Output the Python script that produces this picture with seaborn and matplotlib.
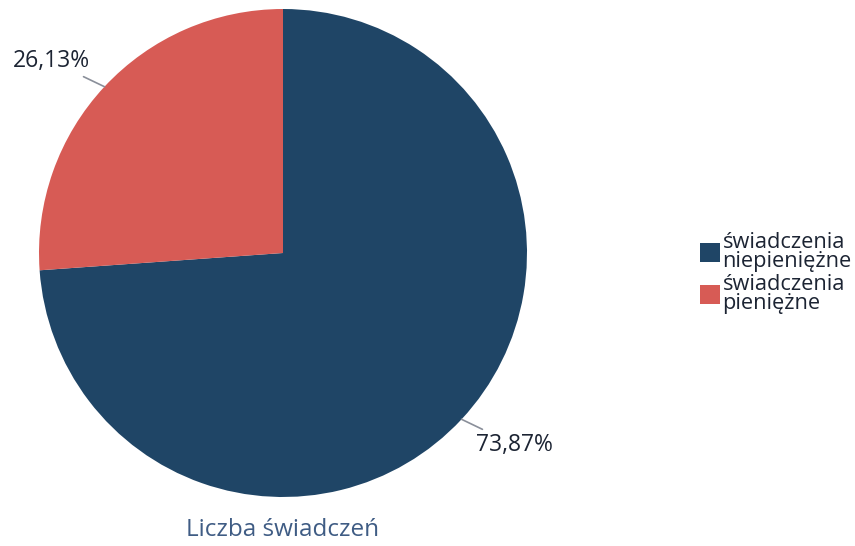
import numpy as np
import matplotlib
matplotlib.use("Agg")
import matplotlib.pyplot as plt
import seaborn as sns
from matplotlib.patches import Patch

# dane
categories = ["świadczenia\nniepieniężne", "świadczenia\npieniężne"]
values = [73.87, 26.13]
labels = ["73,87%", "26,13%"]
colors = ["#1f4566", "#d75b55"]
title = "Liczba świadczeń"

sns.set_theme(style="white")
plt.rcParams["font.family"] = ["Open Sans", "DejaVu Sans"]

fig = plt.figure(figsize=(8.55, 5.46), dpi=100)
W, H = 855, 546
cx, cy, r = 283, 253, 244
ax = fig.add_axes([(cx - r) / W, (H - cy - r) / H, 2 * r / W, 2 * r / H])

wedges, _ = ax.pie(values, colors=colors, startangle=90, counterclock=False,
                   wedgeprops=dict(linewidth=0))
ax.set_aspect("equal")
ax.set_xlim(-1, 1)
ax.set_ylim(-1, 1)

# etykiety z liniami
for w, lab in zip(wedges, labels):
    ang = np.deg2rad((w.theta1 + w.theta2) / 2)
    x, y = np.cos(ang), np.sin(ang)
    xt, yt = 1.08 * x, 1.08 * y
    ha = "left" if x > 0 else "right"
    va = "top" if y < 0 else "bottom"
    ax.annotate(lab, xy=(x, y), xytext=(xt, yt), ha=ha, va=va,
                fontsize=16.5, color="#1c2433",
                arrowprops=dict(arrowstyle="-", color="#8a8f9a", lw=1.2,
                                shrinkA=0, shrinkB=0))

handles = [Patch(facecolor=c, edgecolor="none") for c in colors]
leg = fig.legend(handles, categories, loc="center left", bbox_to_anchor=(0.819, 0.5),
                 frameon=False, fontsize=15.7, handlelength=0.92, handleheight=0.92,
                 handletextpad=0.1, labelspacing=0.12, labelcolor="#1c2433",
                 borderaxespad=0, borderpad=0)
for t in leg.get_texts():
    t.set_linespacing(0.85)

fig.text(cx / W, 1 - 530 / H, title, ha="center", va="center",
         fontsize=17.5, color="#3f5c84")

fig.savefig("out.png", dpi=100)
